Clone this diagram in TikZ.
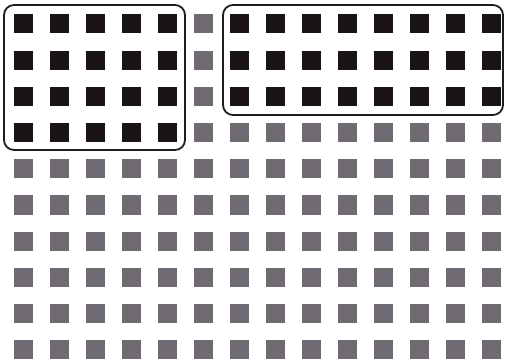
\documentclass[tikz,border=0pt]{standalone}
\usetikzlibrary{positioning}
\definecolor{darksq}{RGB}{26,20,24}
\definecolor{graysq}{RGB}{112,106,114}
\definecolor{boxline}{RGB}{30,30,30}
\tikzset{
  sqdark/.style={rectangle, fill=darksq, minimum width=19pt, minimum height=19pt, inner sep=0pt, draw=none},
  sqgray/.style={rectangle, fill=graysq, minimum width=19pt, minimum height=19pt, inner sep=0pt, draw=none},
  groupbox/.style={draw=boxline, line width=1.8pt, rounded corners=10pt}
}
\begin{document}
\begin{tikzpicture}[x=1pt,y=-1pt]
\useasboundingbox (0,0) rectangle (505,363);
\foreach \i in {0,...,13}{
  \foreach \j in {0,...,9}{
    \pgfmathtruncatemacro{\isdark}{ (\i<5 && \j<4) || (\i>5 && \j<3) ? 1 : 0 }
    \ifnum\isdark=1
      \node[sqdark] (s-\i-\j) at ({23+36*\i},{24+36.2*\j}) {};
    \else
      \node[sqgray] (s-\i-\j) at ({23+36*\i},{24+36.2*\j}) {};
    \fi
  }
}
\draw[groupbox] (4,5) rectangle (185,150);
\draw[groupbox] (223,5) rectangle (503,115);
\end{tikzpicture}
\end{document}
